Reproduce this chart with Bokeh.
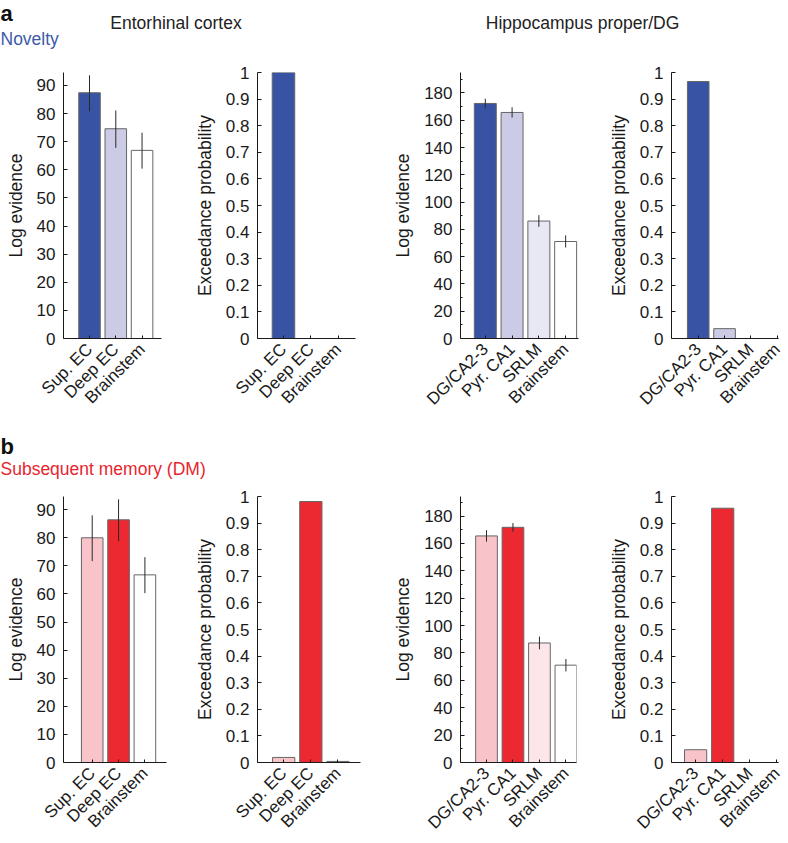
import math
from bokeh.plotting import figure
from bokeh.layouts import row, column
from bokeh.models import Range1d, FixedTicker, GlobalInlineStyleSheet
from bokeh.core.properties import value
from bokeh.embed import file_html
from bokeh.resources import INLINE

# ---------------- data ----------------
EC_CATS = ["Sup. EC", "Deep EC", "Brainstem"]
HC_CATS = ["DG/CA2-3", "Pyr. CA1", "SRLM", "Brainstem"]

# a: Novelty
NOV_EC_LOGEV = [87.4, 74.6, 66.9]
NOV_EC_LO = [80.8, 67.8, 60.4]
NOV_EC_HI = [93.6, 81.1, 73.2]
NOV_EC_EXP = [1.0, 0.0, 0.0]
NOV_HC_LOGEV = [172.3, 165.7, 86.1, 71.1]
NOV_HC_LO = [168.8, 162.0, 81.9, 66.7]
NOV_HC_HI = [175.8, 169.5, 90.4, 75.6]
NOV_HC_EXP = [0.966, 0.037, 0.0, 0.0]

# b: Subsequent memory (DM)
DM_EC_LOGEV = [80.0, 86.4, 66.8]
DM_EC_LO = [71.7, 78.8, 60.3]
DM_EC_HI = [88.0, 93.7, 73.1]
DM_EC_EXP = [0.019, 0.981, 0.004]
DM_HC_LOGEV = [165.5, 171.8, 87.3, 71.1]
DM_HC_LO = [161.3, 168.6, 82.7, 66.5]
DM_HC_HI = [169.7, 174.9, 92.0, 75.6]
DM_HC_EXP = [0.048, 0.956, 0.0, 0.0]

EC_LOG_TICKS = [0, 10, 20, 30, 40, 50, 60, 70, 80, 90]
EC_LOG_LABELS = ["0", "10", "20", "30", "40", "50", "60", "70", "80", "90"]
HC_LOG_TICKS = [0, 20, 40, 60, 80, 100, 120, 140, 160, 180]
HC_LOG_LABELS = ["0", "20", "40", "60", "80", "100", "120", "140", "160", "180"]
HC_LOG_MINOR = [10, 30, 50, 70, 90, 110, 130, 150, 170, 190]
EXP_TICKS = [0, 0.1, 0.2, 0.3, 0.4, 0.5, 0.6, 0.7, 0.8, 0.9, 1]
EXP_LABELS = ["0", "0.1", "0.2", "0.3", "0.4", "0.5", "0.6", "0.7", "0.8", "0.9", "1"]

NOV_EC_COLORS = ["#3953A4", "#CBCBE5", "#FFFFFF"]
NOV_HC_COLORS = ["#3953A4", "#CBCBE5", "#E7E8F4", "#FFFFFF"]
DM_EC_COLORS = ["#F8C4CA", "#EC2830", "#FFFFFF"]
DM_HC_COLORS = ["#F8C4CA", "#EC2830", "#FDE6E9", "#FFFFFF"]

# ---------------- style ----------------
FONT = "Liberation Sans"
TICK_FS = "17px"
LABEL_FS = "17.5px"
PANEL_FS = "22px"
BAR_W = 0.82
EDGE = "#666666"
INK = "#1a1a1a"
TEXT_SHIFT = 7  # compensates the text glyph's baseline placement


def panel(cats, vals, colors, lo, hi, ylabel, ymax, yticks, ylabels, minor,
          xlo, xhi, w, h, bl, br, bt, bb):
    p = figure(width=w, height=h, output_backend="svg", toolbar_location=None,
               title=None,
               x_range=Range1d(xlo, xhi), y_range=Range1d(0, ymax),
               min_border_left=bl, min_border_right=br,
               min_border_top=bt, min_border_bottom=bb)
    xs = list(range(1, len(cats) + 1))
    p.vbar(x=xs, top=vals, bottom=0, width=BAR_W, fill_color=colors,
           line_color=EDGE, line_width=1)
    if lo is not None:
        p.segment(x0=xs, y0=lo, x1=xs, y1=hi, line_color="#2a2a2a", line_width=1)
    p.xgrid.visible = False
    p.ygrid.visible = False
    p.outline_line_color = None
    p.background_fill_color = "white"

    xa = p.xaxis[0]
    xa.ticker = FixedTicker(ticks=xs)
    xa.major_label_overrides = {x: c for x, c in zip(xs, cats)}
    xa.major_label_orientation = math.pi / 4
    xa.major_tick_in = 3
    xa.major_tick_out = 0
    xa.minor_tick_in = 0
    xa.minor_tick_out = 0
    xa.major_label_standoff = 8
    xa.major_label_text_font = FONT
    xa.major_label_text_font_size = TICK_FS
    xa.major_label_text_color = INK
    xa.axis_line_color = INK
    xa.major_tick_line_color = INK

    ya = p.yaxis[0]
    ya.ticker = FixedTicker(ticks=yticks, minor_ticks=minor)
    ya.major_label_overrides = {t: l for t, l in zip(yticks, ylabels)}
    ya.major_tick_in = 4
    ya.major_tick_out = 0
    ya.minor_tick_in = 2
    ya.minor_tick_out = 0
    ya.major_label_standoff = 8
    ya.major_label_text_font = FONT
    ya.major_label_text_font_size = TICK_FS
    ya.major_label_text_color = INK
    ya.axis_label = ylabel
    ya.axis_label_text_font = FONT
    ya.axis_label_text_font_size = LABEL_FS
    ya.axis_label_text_font_style = "normal"
    ya.axis_label_text_color = INK
    ya.axis_label_standoff = 8
    ya.axis_line_color = INK
    ya.major_tick_line_color = INK
    ya.minor_tick_line_color = INK
    return p


def header(h, texts):
    p = figure(width=788, height=h, output_backend="svg", toolbar_location=None,
               title=None,
               x_range=Range1d(0, 788), y_range=Range1d(h, 0),
               x_axis_location=None, y_axis_location=None, min_border=0)
    p.xgrid.visible = False
    p.ygrid.visible = False
    p.outline_line_color = None
    for (x, y, t, size, style, color, align) in texts:
        p.text(x=[x], y=[y - TEXT_SHIFT], text=[t], text_font=value(FONT),
               text_font_size=size, text_font_style=style, text_color=color,
               text_align=align, text_baseline="alphabetic")
    return p


LOG = "Log evidence"
EXP = "Exceedance probability"

head_a = header(55, [
    (0, 20, "a", PANEL_FS, "bold", "#111111", "left"),
    (175.5, 29.5, "Entorhinal cortex", LABEL_FS, "normal", "#222222", "center"),
    (0, 45, "Novelty", LABEL_FS, "normal", "#3D5AA9", "left"),
    (584.5, 29.5, "Hippocampus  proper/DG", LABEL_FS, "normal", "#222222", "center"),
])

a1 = panel(EC_CATS, NOV_EC_LOGEV, NOV_EC_COLORS, NOV_EC_LO, NOV_EC_HI, LOG, 94.6,
           EC_LOG_TICKS, EC_LOG_LABELS, [], 0.01, 3.74, 180, 365, 63, 19, 17, 82)
a2 = panel(EC_CATS, NOV_EC_EXP, NOV_EC_COLORS, None, None, EXP, 1.0,
           EXP_TICKS, EXP_LABELS, [], 0.055, 3.62, 210, 365, 77, 35, 17, 81)
a3 = panel(HC_CATS, NOV_HC_LOGEV, NOV_HC_COLORS, NOV_HC_LO, NOV_HC_HI, LOG, 195,
           HC_LOG_TICKS, HC_LOG_LABELS, HC_LOG_MINOR, 0.074, 4.48, 210, 365, 69, 22, 7, 81)
a4 = panel(HC_CATS, NOV_HC_EXP, NOV_HC_COLORS, None, None, EXP, 1.0,
           EXP_TICKS, EXP_LABELS, [], -0.015, 4.05, 188, 365, 71, 10, 17, 81)

head_b = header(62, [
    (0, 33, "b", PANEL_FS, "bold", "#111111", "left"),
    (0, 55, "Subsequent memory (DM)", LABEL_FS, "normal", "#E8252E", "left"),
])

b1 = panel(EC_CATS, DM_EC_LOGEV, DM_EC_COLORS, DM_EC_LO, DM_EC_HI, LOG, 94.7,
           EC_LOG_TICKS, EC_LOG_LABELS, [], -0.09, 3.82, 180, 361, 63, 14, 14, 81)
b2 = panel(EC_CATS, DM_EC_EXP, DM_EC_COLORS, None, None, EXP, 1.0,
           EXP_TICKS, EXP_LABELS, [], 0.035, 3.83, 210, 361, 77, 30, 14, 81)
b3 = panel(HC_CATS, DM_HC_LOGEV, DM_HC_COLORS, DM_HC_LO, DM_HC_HI, LOG, 194.3,
           HC_LOG_TICKS, HC_LOG_LABELS, HC_LOG_MINOR, 0.018, 4.40, 210, 361, 69, 24, 4, 81)
b4 = panel(HC_CATS, DM_HC_EXP, DM_HC_COLORS, None, None, EXP, 1.0,
           EXP_TICKS, EXP_LABELS, [], 0.11, 4.06, 188, 361, 71, 10, 14, 81)

root = column(head_a, row(a1, a2, a3, a4), head_b, row(b1, b2, b3, b4),
              stylesheets=[GlobalInlineStyleSheet(css="body{margin:0;}")])

open("out.html", "w").write(file_html(root, INLINE))
